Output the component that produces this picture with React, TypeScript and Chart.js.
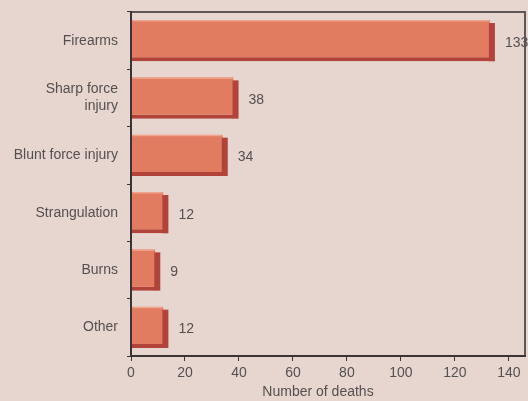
import React, { useEffect, useRef } from "react";
import { Chart, registerables } from "chart.js";

Chart.register(...registerables);

const categories: (string | string[])[] = [
  "Firearms",
  ["Sharp force", "injury"],
  "Blunt force injury",
  "Strangulation",
  "Burns",
  "Other",
];
const deaths = [133, 38, 34, 12, 9, 12];
const xTickValues = [0, 20, 40, 60, 80, 100, 120, 140];
const xTitle = "Number of deaths";

const FONT = "'Liberation Sans', Arial, sans-serif";
const TEXT = "#555050";
const DEPTH = 5;

export default function App() {
  const ref = useRef<HTMLCanvasElement>(null);

  useEffect(() => {
    if (!ref.current) return;

    const frame = {
      id: "frame",
      afterDraw(chart: any) {
        const { ctx, chartArea } = chart;
        const L = Math.round(chartArea.left);
        const T = Math.round(chartArea.top);
        const R = Math.round(chartArea.right);
        const B = Math.round(chartArea.bottom);
        ctx.save();
        const meta = chart.getDatasetMeta(0);
        // 3D side of bars
        meta.data.forEach((bar: any) => {
          const h = bar.height;
          const top = bar.y - h / 2;
          ctx.fillStyle = "#b2433a";
          ctx.fillRect(bar.x - 1, top + 3, DEPTH + 1, h - 3);
          ctx.fillStyle = "#f0a58e";
          ctx.fillRect(bar.base + 1, top, bar.x - bar.base - 2, 1.5);
        });
        ctx.fillStyle = "#5e5656";
        ctx.fillRect(L, T - 1, R - L + 1, 2);
        ctx.fillRect(R - 1, T - 1, 2, B - T + 1);
        ctx.fillStyle = "#3a3434";
        ctx.fillRect(L - 1, T - 1, 2, B - T + 2);
        ctx.fillRect(L - 1, B - 1, R - L + 2, 2);
        // value labels
        ctx.fillStyle = TEXT;
        ctx.font = `14px ${FONT}`;
        ctx.textBaseline = "middle";
        ctx.textAlign = "left";
        meta.data.forEach((bar: any, i: number) => {
          ctx.fillText(String(deaths[i]), bar.x + DEPTH + 10, bar.y + 2);
        });
        // axis title
        ctx.textAlign = "center";
        ctx.fillText(xTitle, (L + R) / 2 - 10, 392);
        ctx.restore();
      },
    };

    const chart = new Chart(ref.current, {
      type: "bar",
      data: {
        labels: categories,
        datasets: [
          {
            data: deaths,
            backgroundColor: "#e27c61",
            borderColor: "#b2433a",
            borderWidth: { top: 0, left: 0, right: 0, bottom: 4 },
            borderSkipped: false,
            barPercentage: 0.72,
            categoryPercentage: 1,
          },
        ],
      },
      options: {
        indexAxis: "y",
        animation: false,
        responsive: false,
        maintainAspectRatio: false,
        layout: { padding: { top: 12, right: 3, left: 0, bottom: 0 } },
        plugins: { legend: { display: false }, tooltip: { enabled: false } },
        scales: {
          x: {
            type: "linear",
            min: 0,
            max: 146,
            ticks: {
              stepSize: 20,
              color: TEXT,
              font: { family: FONT, size: 14 },
              padding: 4,
            },
            afterBuildTicks(scale: any) {
              scale.ticks = xTickValues.map((v) => ({ value: v }));
            },
            afterFit(scale: any) {
              scale.height = 45;
              scale.paddingLeft = 0;
              scale.paddingRight = 0;
            },
            grid: {
              drawOnChartArea: false,
              drawTicks: true,
              tickLength: 5,
              color: "#3a3434",
            },
            border: { display: false },
            title: { display: false },
          },
          y: {
            type: "category",
            ticks: {
              color: TEXT,
              font: { family: FONT, size: 14 },
              padding: 9,
            },
            afterFit(scale: any) {
              scale.width = 131;
              scale.paddingTop = 0;
              scale.paddingBottom = 0;
            },
            grid: {
              offset: true,
              drawOnChartArea: false,
              drawTicks: true,
              tickLength: 4,
              color: "#3a3434",
            },
            border: { display: false },
          },
        },
      },
      plugins: [frame],
    });

    return () => chart.destroy();
  }, []);

  return (
    <div
      style={{
        position: "fixed",
        left: 0,
        top: 0,
        width: 528,
        height: 401,
        background: "#e7d5cf",
      }}
    >
      <canvas ref={ref} width={528} height={401} style={{ display: "block" }} />
    </div>
  );
}
